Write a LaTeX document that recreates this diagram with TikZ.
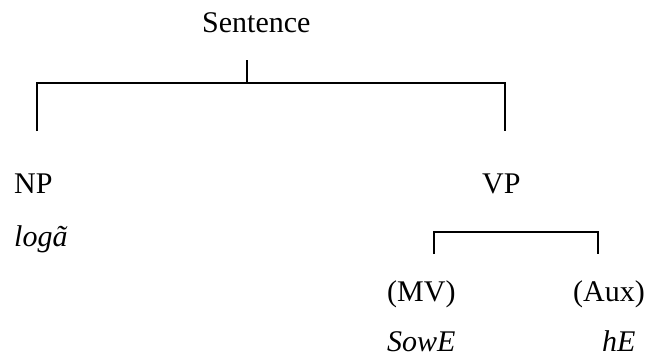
\documentclass[tikz,border=0pt]{standalone}
\usepackage{fontspec}
\setmainfont{Liberation Serif}
\begin{document}
\begin{tikzpicture}[x=1bp,y=-1bp,
  lbl/.style={anchor=base west,inner sep=0pt,font=\fontsize{30bp}{36bp}\selectfont},
  ilbl/.style={lbl,font=\fontsize{30bp}{36bp}\selectfont\itshape},
  br/.style={line width=1.2bp,line cap=butt,line join=miter}]
\useasboundingbox (0,0) rectangle (650,360);
% labels
\node[lbl] (sent) at (202,32) {Sentence};
\node[lbl] (np) at (14,193) {NP};
\node[lbl] (vp) at (482,193) {VP};
\node[ilbl] (loga) at (14,246) {logã};
\node[lbl] (mv) at (387,301) {(MV)};
\node[lbl] (aux) at (573,301) {(Aux)};
\node[ilbl] (sowe) at (387,351) {SowE};
\node[ilbl] (he) at (602,351) {hE};
% bracket coordinates
\coordinate (stemtop) at (247,60);
\coordinate (stembot) at (247,83);
\coordinate (lc) at (37,83);
\coordinate (rc) at (505,83);
\coordinate (lend) at (37,131);
\coordinate (rend) at (505,131);
\coordinate (vlc) at (434,232);
\coordinate (vrc) at (598,232);
\coordinate (vlend) at (434,254);
\coordinate (vrend) at (598,254);
\draw[br] (stemtop) -- (stembot);
\draw[br] (lend) -- (lc) -- (rc) -- (rend);
\draw[br] (vlend) -- (vlc) -- (vrc) -- (vrend);
\end{tikzpicture}
\end{document}
